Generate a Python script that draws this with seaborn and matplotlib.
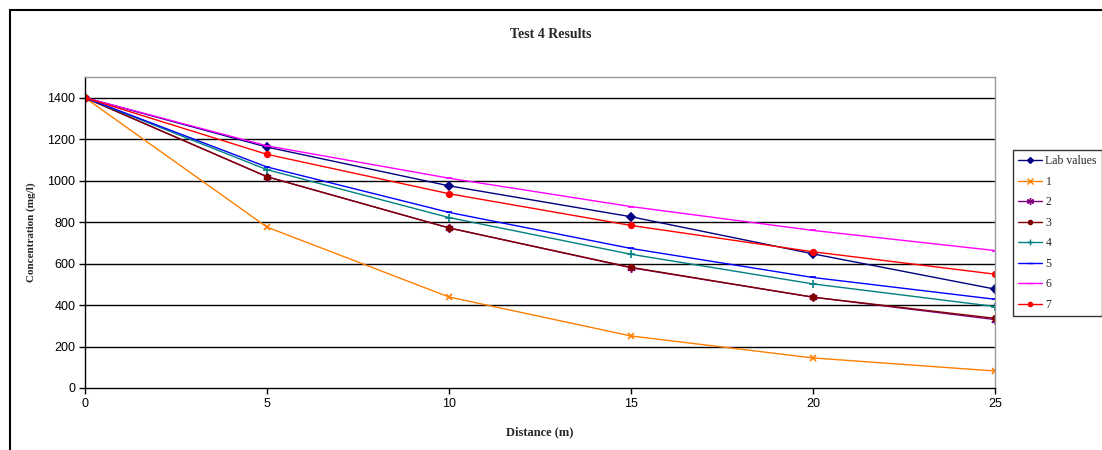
import matplotlib
matplotlib.use("Agg")
import matplotlib.pyplot as plt
from matplotlib.patches import Rectangle
from matplotlib.lines import Line2D
import seaborn as sns
import pandas as pd

distance = [0, 5, 10, 15, 20, 25]
lab_values = [1400, 1162, 975, 826, 647, 477]
run_1 = [1400, 776, 439, 251, 145, 82]
run_2 = [1400, 1019, 772, 580, 438, 330]
run_3 = [1400, 1019, 772, 582, 438, 336]
run_4 = [1400, 1053, 822, 645, 502, 393]
run_5 = [1400, 1066, 847, 673, 533, 428]
run_6 = [1400, 1168, 1012, 875, 760, 663]
run_7 = [1400, 1127, 937, 784, 657, 549]

series_names = ["Lab values", "1", "2", "3", "4", "5", "6", "7"]
series_values = [lab_values, run_1, run_2, run_3, run_4, run_5, run_6, run_7]
colors = ["#000080", "#FF7F00", "#800080", "#800000", "#008080", "#0000FF", "#FF00FF", "#FF0000"]
markers = ["D", "x", (6, 2, 0), "o", "+", "_", "_", "o"]
msizes = [4, 5, 6, 4, 6, 5, 5, 4]

rows = []
for name, vals in zip(series_names, series_values):
    for d, v in zip(distance, vals):
        rows.append({"Distance": d, "Concentration": v, "Series": name})
df = pd.DataFrame(rows)

sns.set_theme(style="white")
plt.rcParams["font.family"] = ["Liberation Serif", "DejaVu Serif"]

fig = plt.figure(figsize=(11.02, 4.5), dpi=100)
ax = fig.add_axes([85 / 1102, 1 - 388 / 450, 910 / 1102, 311 / 450])

sns.lineplot(data=df, x="Distance", y="Concentration", hue="Series",
             hue_order=series_names, palette=dict(zip(series_names, colors)),
             ax=ax, legend=False, linewidth=1.0)

for line, m, ms, c in zip(ax.get_lines(), markers, msizes, colors):
    line.set_marker(m)
    line.set_markersize(ms)
    line.set_markeredgecolor(c)
    line.set_markerfacecolor(c)
    line.set_markeredgewidth(1.2)

ax.set_xlim(0, 25)
ax.set_ylim(0, 1500)
ax.set_xticks(range(0, 26, 5))
ax.set_yticks(range(0, 1401, 200))
for y in range(200, 1401, 200):
    ax.axhline(y, color="black", linewidth=1.0, zorder=0)

for side in ["top", "right"]:
    ax.spines[side].set_color("#999999")
    ax.spines[side].set_linewidth(1.0)
for side in ["left", "bottom"]:
    ax.spines[side].set_color("black")
    ax.spines[side].set_linewidth(1.0)

ax.tick_params(axis="both", direction="out", length=4, width=1, color="black",
               labelsize=9, pad=3, bottom=True, left=True)
for lbl in ax.get_xticklabels() + ax.get_yticklabels():
    lbl.set_family(["Liberation Sans", "DejaVu Sans"])
    lbl.set_color("black")

ax.set_xlabel("Distance (m)", fontsize=9, fontweight="bold", labelpad=12)
ax.set_ylabel("Concentration (mg/l)", fontsize=8, fontweight="bold", labelpad=8)
fig.text(0.5, 1 - 34 / 450, "Test 4 Results", ha="center", va="center",
         fontsize=10, fontweight="bold")

handles = [Line2D([0], [0], color=c, marker=m, markersize=ms - 1,
                  markerfacecolor=c, markeredgecolor=c, linewidth=1.0)
           for c, m, ms in zip(colors, markers, msizes)]
leg = fig.legend(handles, series_names, loc="upper left",
                 bbox_to_anchor=(1013 / 1102, 1 - 150 / 450),
                 frameon=True, fancybox=False, fontsize=8.5, handlelength=2.0,
                 borderpad=0.45, labelspacing=0.72, handletextpad=0.3,
                 borderaxespad=0)
leg.get_frame().set_edgecolor("black")
leg.get_frame().set_linewidth(1.0)

# outer chart-area frame
fig.patches.append(Rectangle((10 / 1102, -0.1), 1.2, 1 - 10 / 450 + 0.1,
                             transform=fig.transFigure, fill=False,
                             edgecolor="black", linewidth=1.5))

fig.savefig("out.png", dpi=100)
